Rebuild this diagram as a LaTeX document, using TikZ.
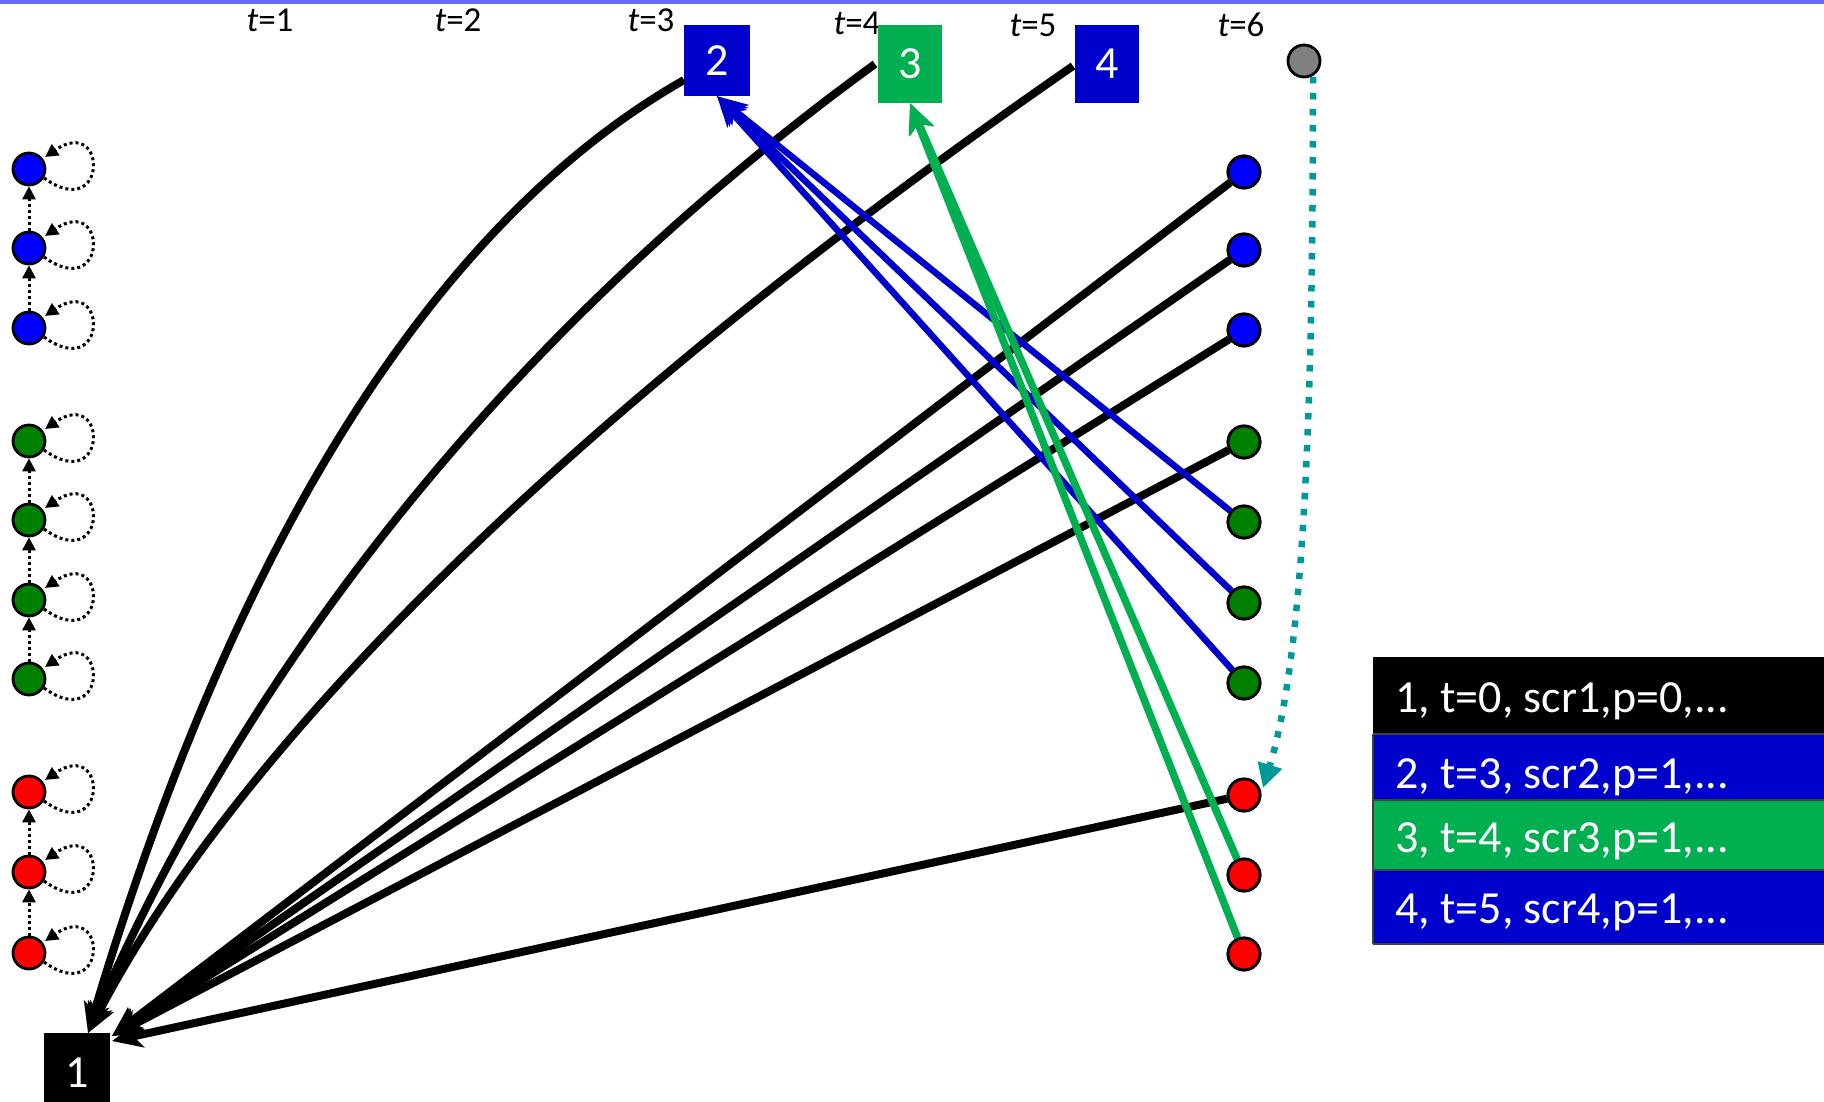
\documentclass[tikz,border=0pt]{standalone}
\usepackage{fontspec}
\setmainfont{Carlito}
\usetikzlibrary{arrows.meta,calc}
\definecolor{nblue}{RGB}{0,0,204}
\definecolor{ngreen}{RGB}{0,176,80}
\definecolor{cblue}{RGB}{0,0,255}
\definecolor{cgreen}{RGB}{0,128,0}
\definecolor{cred}{RGB}{255,0,0}
\definecolor{cgray}{RGB}{128,128,128}
\definecolor{tealc}{RGB}{0,153,153}
\definecolor{topline}{RGB}{106,106,255}
\begin{document}
\begin{tikzpicture}[x=1pt,y=-1pt,
 dot/.style={circle,draw=black,line width=2.8pt,minimum size=32pt,inner sep=0pt},
 sq/.style={rectangle,inner sep=0pt,text=white,font=\fontsize{46}{50}\selectfont},
 tlab/.style={anchor=base,inner sep=0pt,font=\fontsize{35}{40}\selectfont},
 bigtip/.style={-{Stealth[length=30pt,width=26pt,inset=8pt]}},
 blk/.style={line width=8pt,draw=black},
 bluel/.style={line width=6.5pt,draw=nblue},
 greenl/.style={line width=7.5pt,draw=ngreen},
 dotarr/.style={line width=3pt,dash pattern=on 3pt off 3pt,-{Triangle[length=13pt,width=13pt]}},
 legtext/.style={anchor=base west,text=white,font=\fontsize{46}{50}\selectfont,inner sep=0pt},
 legbox/.style={draw=black!75,line width=2pt}
]
\useasboundingbox (0,0) rectangle (1824,1102);
\fill[topline] (0,0) rectangle (1824,4);

% time labels
\node[tlab] (t1) at (270,32) {\textit{t}=1};
\node[tlab] (t2) at (458,32) {\textit{t}=2};
\node[tlab] (t3) at (651,32) {\textit{t}=3};
\node[tlab] (t4) at (857,35) {\textit{t}=4};
\node[tlab] (t5) at (1033,37) {\textit{t}=5};
\node[tlab] (t6) at (1241,37) {\textit{t}=6};

% square nodes
\node[sq,fill=black,minimum width=66pt,minimum height=80pt] (n1) at (77,1073) {1};
\node[sq,fill=nblue,minimum width=66pt,minimum height=71pt] (n2) at (717,60.5) {2};
\node[sq,fill=ngreen,minimum width=64pt,minimum height=78pt] (n3) at (910,64) {3};
\node[sq,fill=nblue,minimum width=64pt,minimum height=78pt] (n4) at (1107,64) {4};

% left column
\foreach \n/\y/\c in {lb1/169/cblue,lb2/248/cblue,lb3/328/cblue,
  lg1/441/cgreen,lg2/520/cgreen,lg3/600/cgreen,lg4/679/cgreen,
  lr1/792/cred,lr2/872/cred,lr3/953/cred}{
  \node[dot,fill=\c] (\n) at (29,\y) {};
  \draw[dotarr] ($(\n)+(15,9)$) .. controls ($(\n)+(79,55)$) and ($(\n)+(79,-55)$) .. ($(\n)+(16,-12)$);
}
\foreach \a/\b in {lb2/lb1,lb3/lb2,lg2/lg1,lg3/lg2,lg4/lg3,lr2/lr1,lr3/lr2}{
  \draw[dotarr] (\a.north) -- (\b.south);
}

% right column
\foreach \n/\y/\c in {rb1/172/cblue,rb2/250/cblue,rb3/330/cblue,
  rg1/442/cgreen,rg2/522/cgreen,rg3/603/cgreen,rg4/683/cgreen,
  rr1/795/cred,rr2/875/cred,rr3/954/cred}{
  \node[dot,fill=\c] (\n) at (1244,\y) {};
}
\node[dot,fill=cgray] (gr) at (1304,61) {};

% coordinates for connector ends
\coordinate (s2) at (684,80);
\coordinate (s3) at (875,64);
\coordinate (s4) at (1073,66);
\coordinate (e1c) at (88,1033);
\coordinate (e1l) at (112,1036);
\coordinate (e1r) at (112,1041);
\coordinate (gs) at (1313,77);
\coordinate (te) at (1263,788);

% curves to node 1
\draw[blk,bigtip] (s2) .. controls (430,225) and (232,550) .. (e1c);
\draw[blk,bigtip] (s3) .. controls (510,330) and (250,660) .. (e1c);
\draw[blk,bigtip] (s4) .. controls (560,421) and (235,750) .. (e1c);

% straight lines to node 1
\foreach \n in {rb1,rb2,rb3,rg1}{
  \draw[blk,bigtip] (\n) -- (e1l);
}
\draw[blk,bigtip] (rr1) -- (e1r);

% blue lines to node 2
\foreach \n in {rg2,rg3,rg4}{
  \draw[bluel,bigtip] (\n) -- (n2.south);
}
% green lines to node 3
\foreach \n in {rr2,rr3}{
  \draw[greenl,bigtip] (\n) -- (n3.south);
}

% redraw right circles on top
\foreach \n/\y/\c in {rb1/172/cblue,rb2/250/cblue,rb3/330/cblue,
  rg1/442/cgreen,rg2/522/cgreen,rg3/603/cgreen,rg4/683/cgreen,
  rr1/795/cred,rr2/875/cred,rr3/954/cred}{
  \node[dot,fill=\c] at (1244,\y) {};
}

% teal dotted
\draw[tealc,line width=6.5pt,dash pattern=on 6.5pt off 9.5pt,-{Triangle[length=24pt,width=24pt]}]
  (gs) .. controls (1313,400) and (1305,650) .. (te);

% legend
\fill[fill=black] (1373,657) rectangle (1830,734);
\fill[fill=nblue] (1373,734) rectangle (1830,800);
\fill[fill=ngreen] (1373,800) rectangle (1830,870);
\fill[fill=nblue] (1373,870) rectangle (1830,944);
\draw[legbox] (1373,734) -- (1830,734) (1373,800) -- (1830,800) (1373,870) -- (1830,870)
  (1373,944) -- (1830,944) (1373,734) -- (1373,944);
\node[legtext] (l1) at (1395,712) {1, t=0, scr1,p=0,...};
\node[legtext] (l2) at (1395,788) {2, t=3, scr2,p=1,...};
\node[legtext] (l3) at (1395,852) {3, t=4, scr3,p=1,...};
\node[legtext] (l4) at (1395,923) {4, t=5, scr4,p=1,...};
\end{tikzpicture}
\end{document}
